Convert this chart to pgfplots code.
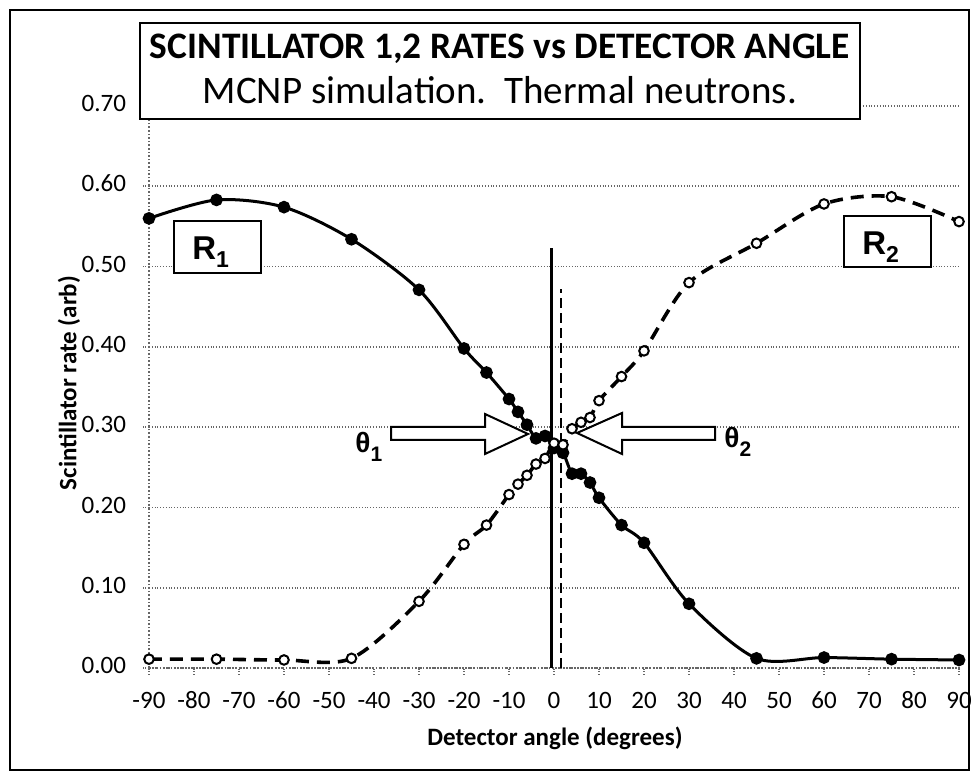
\documentclass[border=0pt]{standalone}
\usepackage{pgfplots}
\pgfplotsset{compat=1.18}
\usepackage{fontspec}
\setmainfont[Numbers=Lining]{Carlito}
\newfontfamily\arialfont{Liberation Sans}
\begin{document}
\begin{tikzpicture}[x=0.5pt,y=0.5pt]
\path[use as bounding box] (0,0) rectangle (979,780);
\coordinate (O) at (554,112);
\begin{axis}[
  at={(O)}, anchor=origin,
  scale only axis, width=405pt, height=281pt,
  xmin=-90, xmax=90, ymin=0, ymax=0.70,
  axis lines*=left,
  axis line style={densely dotted, black!60, line width=0.8pt},
  xtick={-90,-80,-70,-60,-50,-40,-30,-20,-10,0,10,20,30,40,50,60,70,80,90},
  ytick={0,0.1,0.2,0.3,0.4,0.5,0.6,0.7},
  ymajorgrids, grid style={densely dotted, black!60, line width=0.8pt},
  tick style={densely dotted, black!60, line width=0.8pt},
  tick align=outside, major tick length=3pt,
  typeset ticklabels with strut,
  ticklabel style={font=\fontsize{12.5}{14}\selectfont},
  /pgf/number format/assume math mode=true,
  yticklabel style={xshift=-5pt, /pgf/number format/.cd, fixed, fixed zerofill, precision=2},
  xticklabel style={yshift=-4pt},
  clip=false,
]
\addplot[black, line width=1.2pt] coordinates {(-0.6,0) (-0.6,0.523)};
\addplot[black, line width=1.2pt, dash pattern=on 5pt off 2.5pt] coordinates {(1.5,0) (1.5,0.472)};
% R1
\addplot[black, line width=1.5pt, smooth, mark=*, mark size=2.4pt, mark options={solid, fill=black}] coordinates {
(-90,0.560) (-75,0.583) (-60,0.574) (-45,0.534) (-30,0.471) (-20,0.398) (-15,0.368)
(-10,0.335) (-8,0.319) (-6,0.303) (-4,0.286) (-2,0.289) (0,0.274) (2,0.268) (4,0.242)
(6,0.242) (8,0.231) (10,0.212) (15,0.178) (20,0.156) (30,0.080) (45,0.012) (60,0.013)
(75,0.011) (90,0.010)};
% R2
\addplot[black, line width=1.8pt, smooth, dash pattern=on 6.5pt off 4pt, mark=*, mark size=2.4pt, mark options={solid, fill=white, line width=1pt}] coordinates {
(-90,0.011) (-75,0.011) (-60,0.010) (-45,0.012) (-30,0.083) (-20,0.154) (-15,0.178)
(-10,0.216) (-8,0.229) (-6,0.240) (-4,0.254) (-2,0.261) (0,0.280) (2,0.278) (4,0.298)
(6,0.306) (8,0.312) (10,0.333) (15,0.363) (20,0.395) (30,0.480) (45,0.529) (60,0.578)
(75,0.587) (90,0.556)};
\end{axis}
% outer border
\draw[line width=1.2pt] (10,10) rectangle (969,770);
% title box
\draw[line width=1pt, fill=white] (140,661) rectangle (860,757);
\node[anchor=base, inner sep=0, font=\fontsize{18.7}{22}\selectfont\bfseries] at (500,721) {SCINTILLATOR 1,2 RATES vs DETECTOR ANGLE};
\node[anchor=base, inner sep=0, font=\fontsize{19.5}{22}\selectfont] at (500,676) {MCNP simulation.\ \ Thermal neutrons.};
% axis titles
\node[anchor=base, inner sep=0, font=\fontsize{12.5}{15}\selectfont\bfseries] at (555,34) {Detector angle (degrees)};
\node[rotate=90, inner sep=0, font=\fontsize{12.5}{15}\selectfont\bfseries] at (69,397) {Scintillator rate (arb)};
% R boxes
\draw[line width=1pt, fill=white] (174,507) rectangle (261,559);
\node[anchor=base west, inner sep=0] at (192,520) {\arialfont\bfseries\fontsize{16.5}{18}\selectfont R\raisebox{-4pt}{\fontsize{11.5}{12}\selectfont 1}};
\draw[line width=1pt, fill=white] (844,513) rectangle (931,564);
\node[anchor=base west, inner sep=0] at (862,525) {\arialfont\bfseries\fontsize{16.5}{18}\selectfont R\raisebox{-4pt}{\fontsize{11.5}{12}\selectfont 2}};
% arrows
\draw[line width=1pt, fill=white, line join=miter] (391,353) -- (485,353) -- (485,366) -- (528,346) -- (485,326) -- (485,340) -- (391,340) -- cycle;
\draw[line width=1pt, fill=white, line join=miter] (577,347) -- (622,367) -- (622,353) -- (715,353) -- (715,340) -- (622,340) -- (622,326) -- cycle;
% theta labels
\node[anchor=base west, inner sep=0] at (355,327) {\arialfont\bfseries\fontsize{14}{16}\selectfont θ\raisebox{-4.5pt}{\fontsize{10.5}{12}\selectfont 1}};
\node[anchor=base west, inner sep=0] at (724,332) {\arialfont\bfseries\fontsize{14}{16}\selectfont θ\raisebox{-4.5pt}{\fontsize{10.5}{12}\selectfont 2}};
\end{tikzpicture}
\end{document}
